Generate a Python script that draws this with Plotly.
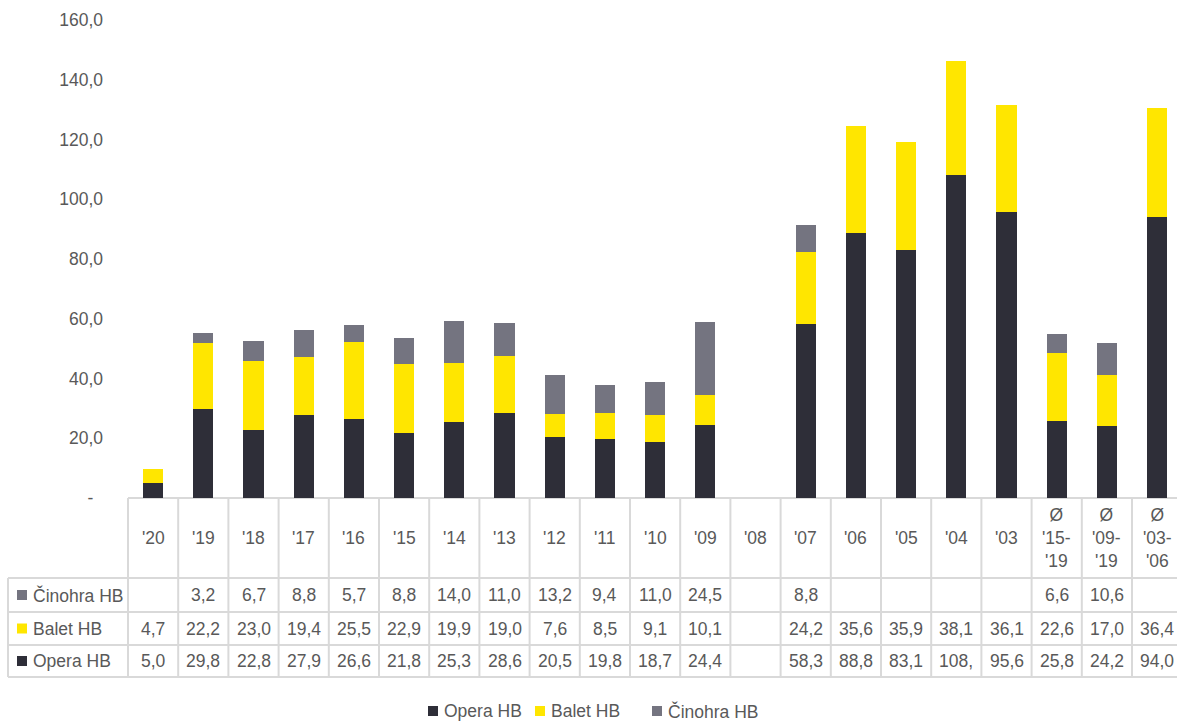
import plotly.graph_objects as go

# ---------------- data ----------------
categories = ["'20", "'19", "'18", "'17", "'16", "'15", "'14", "'13", "'12", "'11", "'10",
              "'09", "'08", "'07", "'06", "'05", "'04", "'03",
              "Ø '15-'19", "Ø '09-'19", "Ø '03-'06"]
header_labels = ["'20", "'19", "'18", "'17", "'16", "'15", "'14", "'13", "'12", "'11", "'10",
                 "'09", "'08", "'07", "'06", "'05", "'04", "'03",
                 "Ø<br>'15-<br>'19", "Ø<br>'09-<br>'19", "Ø<br>'03-<br>'06"]
opera = [5.0, 29.8, 22.8, 27.9, 26.6, 21.8, 25.3, 28.6, 20.5, 19.8, 18.7,
         24.4, None, 58.3, 88.8, 83.1, 108.2, 95.6, 25.8, 24.2, 94.0]
balet = [4.7, 22.2, 23.0, 19.4, 25.5, 22.9, 19.9, 19.0, 7.6, 8.5, 9.1,
         10.1, None, 24.2, 35.6, 35.9, 38.1, 36.1, 22.6, 17.0, 36.4]
cinohra = [None, 3.2, 6.7, 8.8, 5.7, 8.8, 14.0, 11.0, 13.2, 9.4, 11.0,
           24.5, None, 8.8, None, None, None, None, 6.6, 10.6, None]
ytick_vals = [0, 20, 40, 60, 80, 100, 120, 140, 160]

# ---------------- style ----------------
W, H = 1177, 721
L, R, T, B = 128, 0, 20, 223
PW, PH = W - L - R, H - T - B
COL_PX = 50.2
FONT = "Liberation Sans, Arial, sans-serif"
FS = 17.5
TXT = "#595959"
LINE = "#d9d9d9"
C_OPERA, C_BALET, C_CIN = "#2e2e38", "#ffe600", "#747480"


def px_x(px):
    return (px - L) / PW


def px_y(py):
    return (H - B - py) / PH


def fmt(v):
    if v is None:
        return ""
    s = f"{v:.1f}".replace(".", ",")
    return s[:4]  # cell too narrow: Excel truncates


def ytick(v):
    return "-\u2007" if v == 0 else f"{v:.1f}".replace(".", ",")


series = [("Opera HB", opera, C_OPERA), ("Balet HB", balet, C_BALET), ("Činohra HB", cinohra, C_CIN)]

fig = go.Figure()
for name, vals, col in series:
    fig.add_bar(x=categories, y=vals, name=name, marker=dict(color=col, line=dict(width=0)))

fig.update_layout(
    barmode="stack", bargap=0.6, width=W, height=H,
    margin=dict(l=L, r=R, t=T, b=B, pad=0),
    paper_bgcolor="white", plot_bgcolor="white", showlegend=False,
    font=dict(family=FONT, size=FS, color=TXT),
)
fig.update_xaxes(type="category", categoryorder="array", categoryarray=categories,
                 range=[-0.5, -0.5 + PW / COL_PX], showticklabels=False,
                 showgrid=False, zeroline=False, showline=False)
fig.update_yaxes(range=[0, 160], tickvals=ytick_vals, ticktext=[ytick(v) for v in ytick_vals],
                 showgrid=False, zeroline=False, showline=False, ticks="",
                 ticklabelstandoff=24, tickfont=dict(family=FONT, size=FS, color=TXT))

shapes = []
annotations = []
y_top, y_hdr, y_r1, y_r2, y_bot = 498, 578, 612, 645, 677


def hline(py, x0px, x1px):
    shapes.append(dict(type="line", xref="paper", yref="paper", x0=px_x(x0px), x1=px_x(x1px),
                       y0=px_y(py), y1=px_y(py), line=dict(color=LINE, width=2), layer="below"))


hline(y_top, 128, 1177)
for py in (y_hdr, y_r1, y_r2, y_bot):
    hline(py, 8, 1177)
# vertical lines
shapes.append(dict(type="line", xref="paper", yref="paper", x0=0, x1=0,
                   y0=px_y(y_top), y1=px_y(y_bot), line=dict(color=LINE, width=2)))
shapes.append(dict(type="line", xref="paper", yref="paper", x0=px_x(8), x1=px_x(8),
                   y0=px_y(y_hdr), y1=px_y(y_bot), line=dict(color=LINE, width=2)))
for i in range(1, len(categories)):
    shapes.append(dict(type="line", xref="x", yref="paper", x0=i - 0.5, x1=i - 0.5,
                       y0=px_y(y_top), y1=px_y(y_bot), line=dict(color=LINE, width=2)))

# header labels
for i, lab in enumerate(header_labels):
    annotations.append(dict(x=i, xref="x", y=px_y((y_top + y_hdr) / 2), yref="paper",
                            text=lab, showarrow=False, xanchor="center", yanchor="middle",
                            font=dict(family=FONT, size=FS, color=TXT)))

rows = [("Činohra HB", cinohra, C_CIN, (y_hdr + y_r1) / 2),
        ("Balet HB", balet, C_BALET, (y_r1 + y_r2) / 2),
        ("Opera HB", opera, C_OPERA, (y_r2 + y_bot) / 2)]
for name, vals, col, yc in rows:
    shapes.append(dict(type="rect", xref="paper", yref="paper", x0=px_x(17), x1=px_x(27),
                       y0=px_y(yc + 5), y1=px_y(yc - 5), line=dict(width=0), fillcolor=col))
    annotations.append(dict(x=px_x(31), xref="paper", y=px_y(yc), yref="paper", text=name,
                            showarrow=False, xanchor="left", yanchor="middle",
                            font=dict(family=FONT, size=FS, color=TXT)))
    for i, v in enumerate(vals):
        if v is None:
            continue
        annotations.append(dict(x=i, xref="x", y=px_y(yc), yref="paper", text=fmt(v),
                                showarrow=False, xanchor="center", yanchor="middle",
                                font=dict(family=FONT, size=FS, color=TXT)))

# legend (bottom)
leg_y = 711
for (name, vals, col), sx in zip(series, (428, 535, 652)):
    shapes.append(dict(type="rect", xref="paper", yref="paper", x0=px_x(sx), x1=px_x(sx + 10),
                       y0=px_y(leg_y + 5), y1=px_y(leg_y - 5), line=dict(width=0), fillcolor=col))
    annotations.append(dict(x=px_x(sx + 14), xref="paper", y=px_y(leg_y), yref="paper", text=name,
                            showarrow=False, xanchor="left", yanchor="middle",
                            font=dict(family=FONT, size=FS, color=TXT)))

fig.update_layout(shapes=shapes, annotations=annotations)
fig.write_html("out.html", config={"displayModeBar": False},
               post_script="document.body.style.margin='0';document.body.style.overflow='hidden';")
